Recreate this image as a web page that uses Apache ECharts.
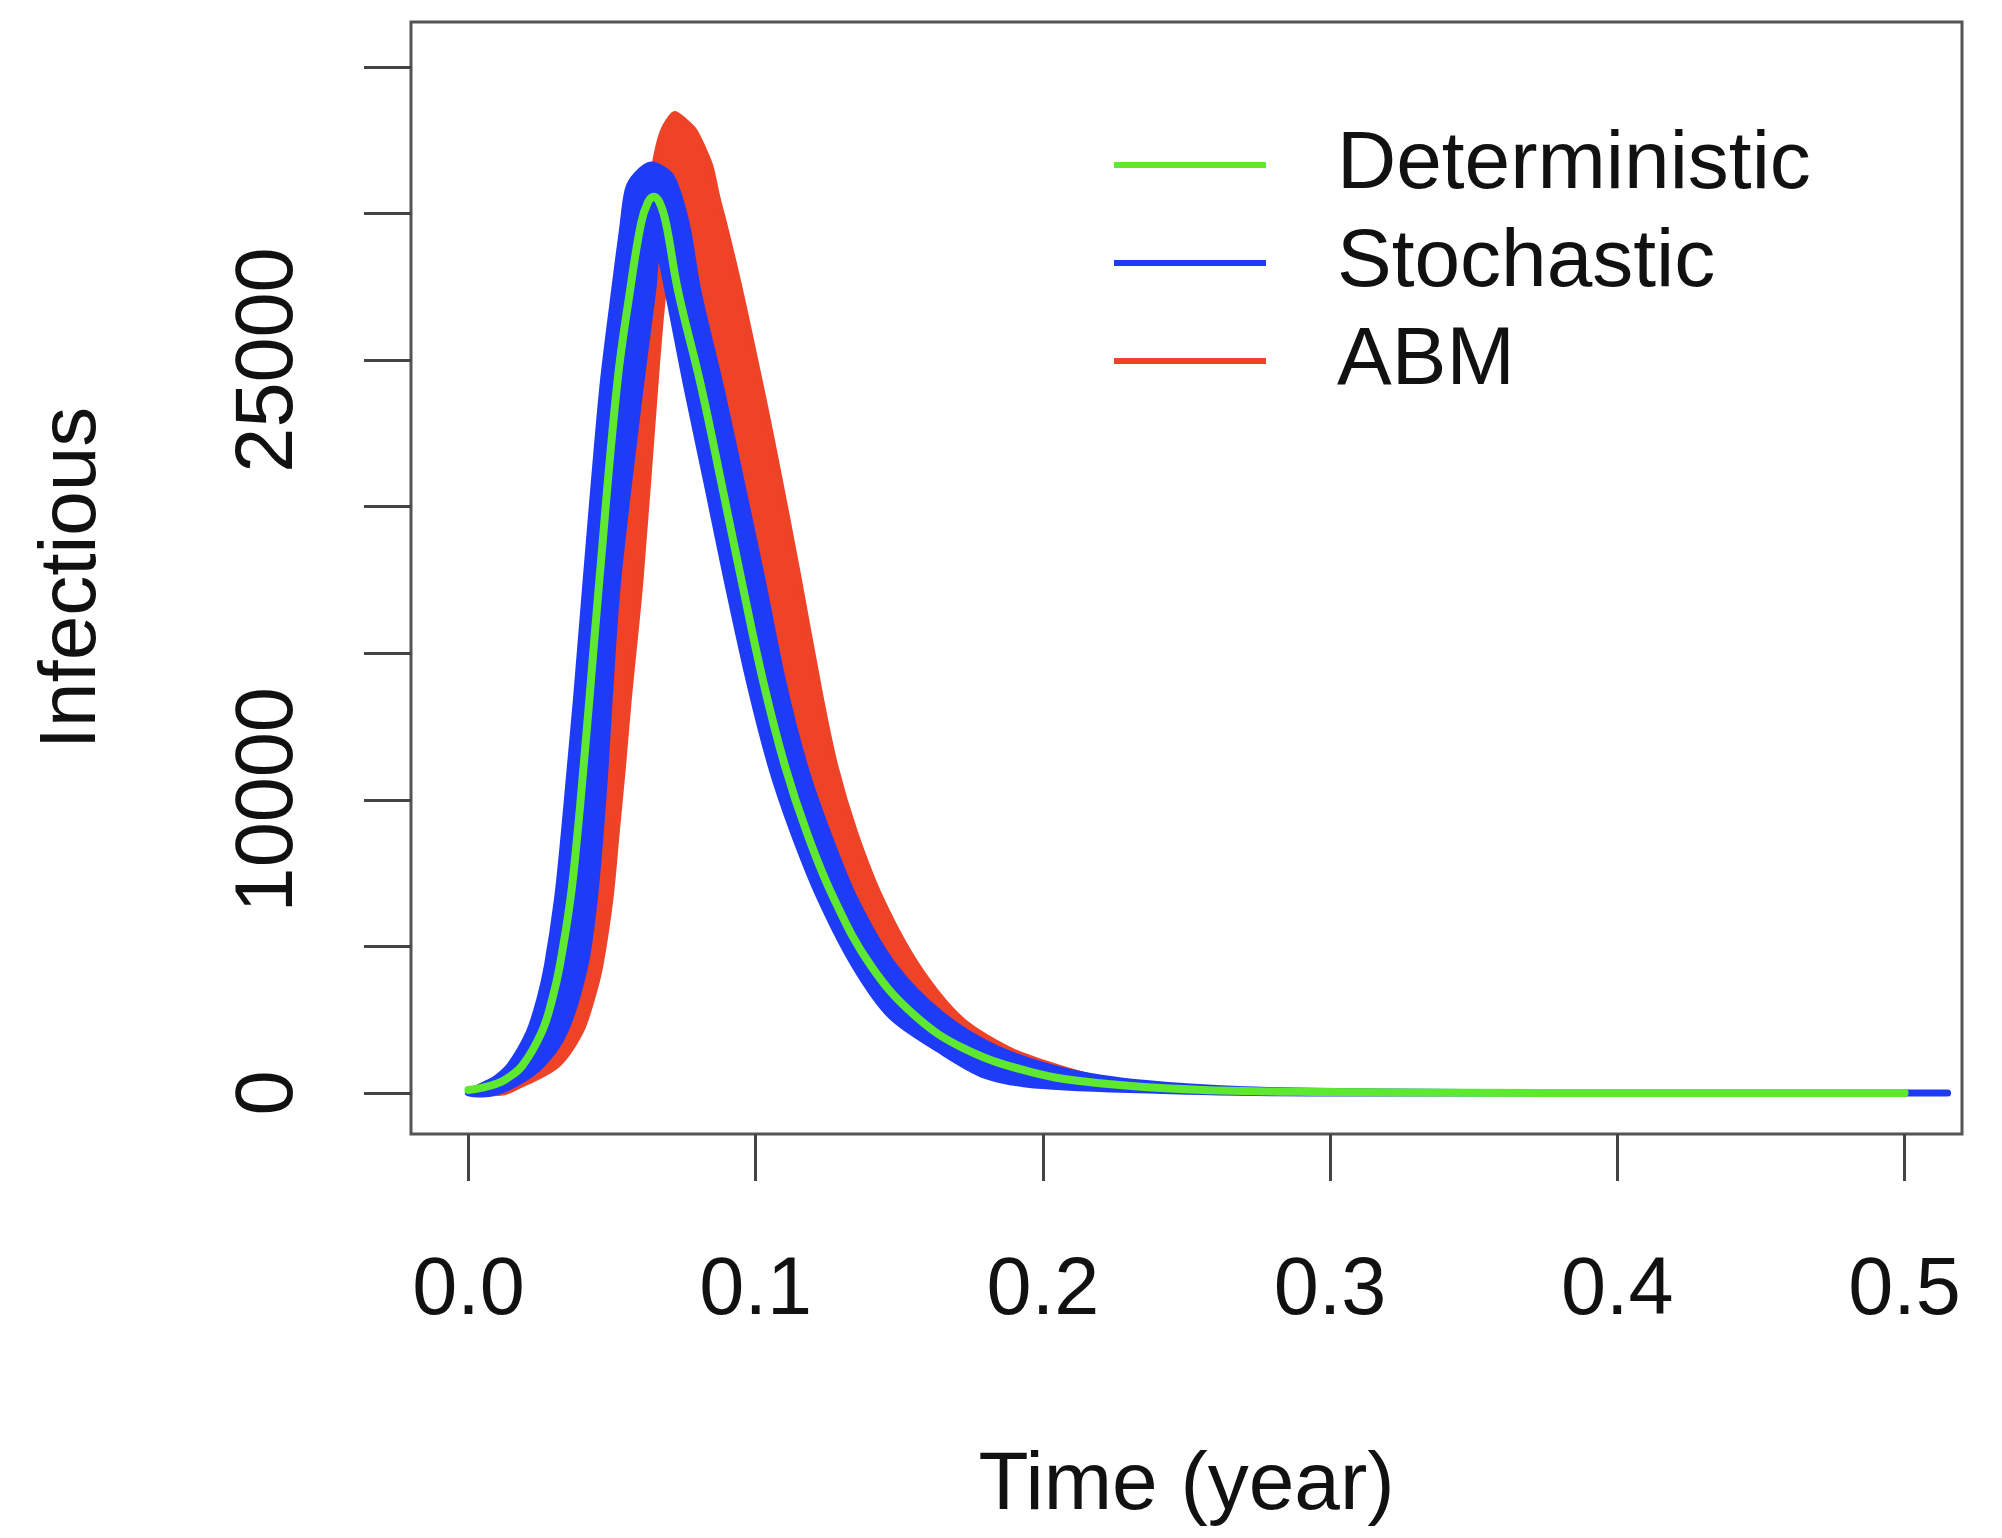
<!DOCTYPE html>
<html><head><meta charset="utf-8">
<script src="https://cdn.jsdelivr.net/npm/echarts@6/dist/echarts.min.js"></script>
<style>html,body{margin:0;padding:0;background:#fff}#c{width:2002px;height:1538px}</style>
</head><body><div id="c"></div>
<script>
// ---- tick labels ----
const xTicks = [0, 0.1, 0.2, 0.3, 0.4, 0.5];
const yTicks = [0, 5000, 10000, 15000, 20000, 25000, 30000, 35000];
const yLabelsShown = [0, 10000, 25000];

// ---- Deterministic (green line) ----
const greenT = [0, 0.005, 0.01, 0.0133, 0.0188, 0.0255, 0.0292, 0.0318, 0.0355, 0.038, 0.0401, 0.0421, 0.0456, 0.0518, 0.0563, 0.0601, 0.0625, 0.0645, 0.0665, 0.0688, 0.0729, 0.081, 0.0885, 0.095, 0.1027, 0.1102, 0.1178, 0.1273, 0.1401, 0.1554, 0.1728, 0.196, 0.219, 0.254, 0.3, 0.35, 0.4, 0.5];
const greenV = [100, 180, 320, 484, 937, 2074, 3209, 4343, 6614, 8886, 11155, 13426, 17513, 24200, 27391, 29663, 30380, 30569, 30380, 29663, 27391, 24100, 20600, 17513, 14000, 11155, 8886, 6614, 4343, 2640, 1505, 712, 340, 110, 30, 8, 0, 0];

// ---- Stochastic (blue band): outer edge (t ascending), inner edge (t descending) ----
const blueOuterT = [0, 0.005, 0.0095, 0.0145, 0.0212, 0.0249, 0.0275, 0.031, 0.0334, 0.0355, 0.0376, 0.041, 0.0467, 0.0509, 0.0537, 0.0556, 0.0585, 0.0636, 0.0705, 0.0758, 0.0798, 0.088, 0.0955, 0.1022, 0.1095, 0.117, 0.125, 0.1345, 0.148, 0.165, 0.184, 0.209, 0.235, 0.27, 0.32, 0.4, 0.515];
const blueOuterV = [0, 250, 484, 937, 2074, 3209, 4343, 6614, 8886, 11155, 13426, 17513, 24000, 27391, 29500, 30800, 31300, 31650, 31250, 29663, 27391, 23985, 20600, 17513, 14000, 11155, 8886, 6614, 4343, 2640, 1505, 712, 330, 110, 30, 0, 0];
const blueInnerT = [0.515, 0.3, 0.25, 0.2, 0.18, 0.1635, 0.147, 0.1345, 0.1226, 0.1132, 0.1054, 0.0979, 0.09, 0.0835, 0.0758, 0.0694, 0.0659, 0.0642, 0.0597, 0.052, 0.049, 0.0476, 0.0459, 0.0438, 0.0405, 0.0334, 0.0252, 0.0159, 0.008];
const blueInnerV = [0, 0, 60, 250, 600, 1505, 2640, 4343, 6614, 8886, 11155, 14000, 17513, 20600, 24200, 27391, 28866, 27391, 23985, 17513, 13426, 11155, 8886, 6614, 4343, 2074, 937, 300, 0];

// ---- ABM (red band): outer edge (t ascending), inner edge (t descending) ----
const redOuterT = [0.006, 0.016, 0.024, 0.031, 0.037, 0.0415, 0.044, 0.0455, 0.048, 0.05, 0.055, 0.058, 0.0615, 0.0647, 0.0665, 0.0682, 0.0717, 0.0752, 0.0787, 0.0822, 0.0845, 0.0868, 0.0892, 0.0926, 0.0961, 0.0996, 0.1035, 0.108, 0.1147, 0.1226, 0.1279, 0.1348, 0.1439, 0.1565, 0.1716, 0.188, 0.2002, 0.218, 0.235, 0.255, 0.28, 0.3];
const redOuterV = [0, 400, 937, 2074, 4343, 6614, 8886, 11155, 13426, 17513, 24200, 27391, 30000, 31706, 32500, 32953, 33409, 33181, 32840, 32158, 31590, 30569, 29663, 28300, 26800, 25200, 23400, 21200, 17800, 13600, 11155, 8886, 6614, 4343, 2527, 1505, 1052, 541, 300, 150, 50, 0];
const redInnerT = [0.3, 0.25, 0.22, 0.2, 0.178, 0.16, 0.144, 0.131, 0.1205, 0.113, 0.106, 0.099, 0.085, 0.077, 0.0694, 0.0688, 0.067, 0.065, 0.0601, 0.056, 0.054, 0.0518, 0.0496, 0.0461, 0.0432, 0.0392, 0.031, 0.0159, 0.012];
const redInnerV = [0, 100, 350, 700, 1505, 2640, 4343, 6614, 8886, 11155, 13426, 17513, 24000, 27391, 28525, 27960, 26257, 23800, 17513, 13426, 11155, 8886, 6614, 4343, 3209, 2074, 937, 143, 0];

const FONT = '"Liberation Sans", Arial, Helvetica, sans-serif';
const GREEN = '#5EE830', BLUE = '#1E3CF8', RED = '#EE4326';

function pairs(T, V) { return T.map((t, i) => [t, V[i]]); }

function bandSeries(name, color, outerT, outerV, innerT, innerV, strokeW) {
  const pts = pairs(outerT, outerV).concat(pairs(innerT, innerV));
  return {
    type: 'custom', name: name, data: pts, clip: true, silent: true,
    encode: { x: 0, y: 1 },
    itemStyle: { color: color },
    renderItem: function (params, api) {
      if (params.dataIndex !== 0) return null;
      const coords = pts.map(p => api.coord(p));
      return {
        type: 'polygon',
        shape: { points: coords, smooth: 0.3 },
        style: { fill: color, stroke: color, lineWidth: strokeW, lineJoin: 'round' }
      };
    }
  };
}

const chart = echarts.init(document.getElementById('c'), null, { renderer: 'canvas', width: 2002, height: 1538 });
chart.setOption({
  backgroundColor: '#ffffff',
  animation: false,
  grid: { left: 411, right: 40, top: 22, bottom: 404, show: true, borderColor: '#555', borderWidth: 3, backgroundColor: 'transparent' },
  legend: {
    orient: 'vertical', left: 1109, top: 119,
    itemWidth: 152, itemHeight: 6, itemGap: 16, icon: 'rect', selectedMode: false,
    data: [
      { name: 'Deterministic', itemStyle: { color: GREEN } },
      { name: 'Stochastic', itemStyle: { color: BLUE } },
      { name: 'ABM', itemStyle: { color: RED } }
    ],
    textStyle: { fontSize: 82, fontFamily: FONT, color: '#111', lineHeight: 82, padding: [0, 0, 0, 66] }
  },
  xAxis: {
    type: 'value', min: -0.02, max: 0.52,
    name: 'Time (year)', nameLocation: 'middle', nameGap: 311,
    nameTextStyle: { fontSize: 82, fontFamily: FONT, color: '#111' },
    axisLine: { show: false, onZero: false },
    splitLine: { show: false },
    axisTick: { show: true, length: 47, customValues: xTicks, lineStyle: { color: '#444', width: 3 } },
    axisLabel: { customValues: xTicks, margin: 117, fontSize: 81, fontFamily: FONT, color: '#111', formatter: v => v.toFixed(1) }
  },
  yAxis: {
    type: 'value', min: -1400, max: 36530,
    name: 'Infectious', nameLocation: 'middle', nameRotate: 90, nameGap: 298,
    nameTextStyle: { fontSize: 80, fontFamily: FONT, color: '#111' },
    axisLine: { show: false, onZero: false },
    splitLine: { show: false },
    axisTick: { show: true, length: 47, customValues: yTicks, lineStyle: { color: '#444', width: 3 } },
    axisLabel: { customValues: yLabelsShown, rotate: 90, margin: 101, fontSize: 81, fontFamily: FONT, color: '#111', formatter: v => String(v) }
  },
  series: [
    bandSeries('ABM', RED, redOuterT, redOuterV, redInnerT, redInnerV, 5),
    bandSeries('Stochastic', BLUE, blueOuterT, blueOuterV, blueInnerT, blueInnerV, 7),
    {
      type: 'line', name: 'Deterministic', data: pairs(greenT, greenV),
      showSymbol: false, symbol: 'none', smooth: 0.4, clip: true, silent: true,
      itemStyle: { color: GREEN },
      lineStyle: { color: GREEN, width: 8, cap: 'round', join: 'round' }
    }
  ]
});
</script>
</body></html>
